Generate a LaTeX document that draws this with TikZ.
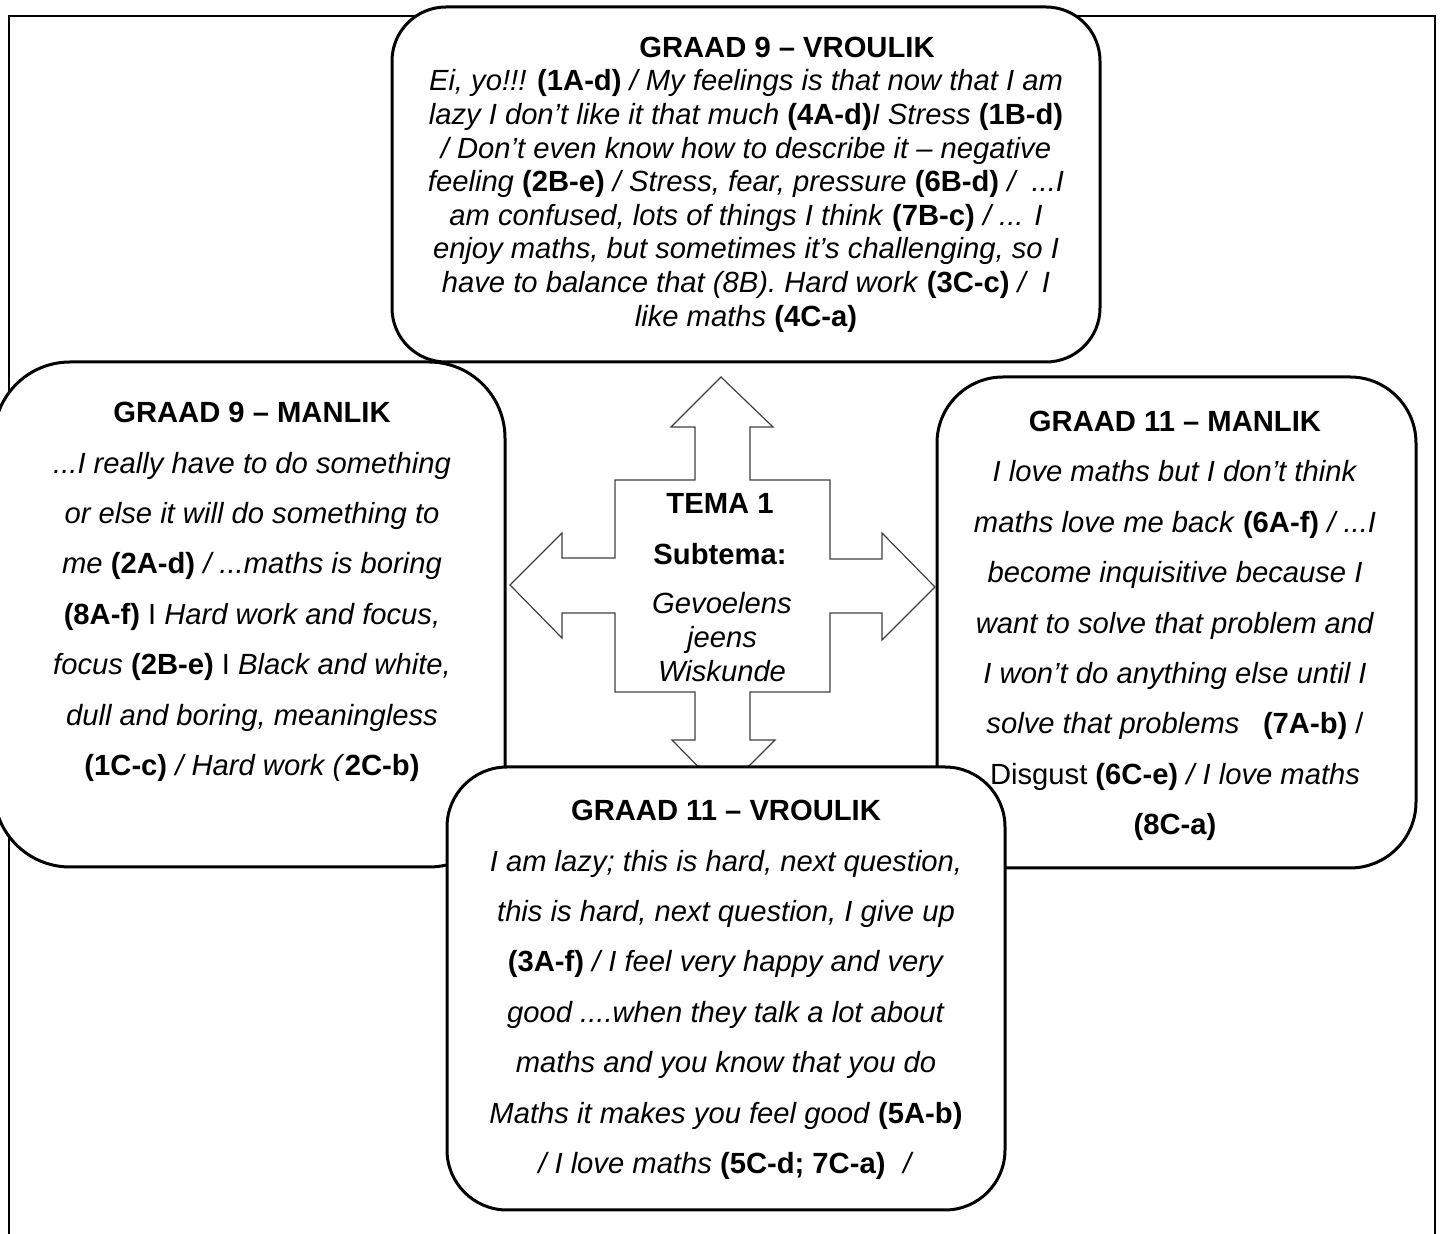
\documentclass[tikz,border=0pt]{standalone}
\usepackage{fontspec}
\setmainfont{Liberation Sans}
\newcommand\myb[1]{\textbf{#1}}
\newcommand\myi[1]{\textit{#1}}
\begin{document}
\begin{tikzpicture}[x=0.5pt,y=-0.5pt,
  box/.style={draw, line width=1.5pt, fill=white, inner sep=0pt, rectangle},
  txt/.style={align=center, font=\fontsize{14.6}{25.2}\selectfont, inner sep=0pt},
  txtsingle/.style={align=center, font=\fontsize{14.6}{16.8}\selectfont, inner sep=0pt},
  arrowshape/.style={draw=black!75, line width=0.6pt, fill=white, line join=miter}]
\useasboundingbox (0,0) rectangle (1442,1234);
% outer frame
\draw[line width=1pt] (9,1240) -- (9,16) -- (1435,16) -- (1435,1240);
% boxes
\node[box, minimum width=255.5pt, minimum height=252.5pt, rounded corners=38pt] (g9m) at (249.5,614.5) {};
\node[box, minimum width=354pt, minimum height=177.5pt, rounded corners=27pt] (g9v) at (746,184.5) {};
\node[box, minimum width=239.5pt, minimum height=245.5pt, rounded corners=33pt] (g11m) at (1176.5,622.5) {};
% central four-way arrow
\draw[arrowshape] (721,377) -- (773,427) -- (750,427) -- (750,480) -- (830,480) -- (830,559)
  -- (882,559) -- (882,533) -- (935,587) -- (882,640) -- (882,613) -- (830,613) -- (830,692)
  -- (750,692) -- (750,740) -- (775,740) -- (723,792) -- (672,740) -- (695,740) -- (695,692)
  -- (615,692) -- (615,613) -- (562,613) -- (562,638) -- (510,585) -- (562,533) -- (562,558)
  -- (615,558) -- (615,480) -- (695,480) -- (695,427) -- (671,427) -- cycle;
\node[box, minimum width=279pt, minimum height=221.5pt, rounded corners=30pt] (g11v) at (726,988.5) {};
% texts
\node[txtsingle] (g9vtitle) at (787,47) {\myb{GRAAD 9 – VROULIK}};
\node[txtsingle] (g9vbody) at (746,201) {%
\myi{Ei, yo!!!} \myb{(1A-d)} \myi{/ My feelings is that now that I am}\\
\myi{lazy I don’t like it that much} \myb{(4A-d)}\myi{I Stress} \myb{(1B-d)}\\
\myi{/ Don’t even know how to describe it – negative}\\
\myi{feeling} \myb{(2B-e)} \myi{/ Stress, fear, pressure} \myb{(6B-d)} \myi{/~ ...I}\\
\myi{am confused, lots of things I think} \myb{(7B-c)} \myi{/ ... I}\\
\myi{enjoy maths, but sometimes it’s challenging, so I}\\
\myi{have to balance that (8B). Hard work} \myb{(3C-c)} \myi{/~ I}\\
\myi{like maths} \myb{(4C-a)}};
\node[txt] (g9mtext) at (252,592) {%
\myb{GRAAD 9 – MANLIK}\\
\myi{...I really have to do something}\\
\myi{or else it will do something to}\\
\myi{me} \myb{(2A-d)} \myi{/ ...maths is boring}\\
\myb{(8A-f)} I \myi{Hard work and focus,}\\
\myi{focus} \myb{(2B-e)} I \myi{Black and white,}\\
\myi{dull and boring, meaningless}\\
\myb{(1C-c)} \myi{/ Hard work (}\myb{2C-b)}};
\node[txt] (g11mtext) at (1175,626) {%
\myb{GRAAD 11 – MANLIK}\\
\myi{I love maths but I don’t think}\\
\myi{maths love me back} \myb{(6A-f)} \myi{/ ...I}\\
\myi{become inquisitive because I}\\
\myi{want to solve that problem and}\\
\myi{I won’t do anything else until I}\\
\myi{solve that problems}\hspace{0.8em}\myb{(7A-b)} /\\
Disgust \myb{(6C-e)} \myi{/ I love maths}\\
\myb{(8C-a)}};
\node[txt] (g11vtext) at (726,990) {%
\myb{GRAAD 11 – VROULIK}\\
\myi{I am lazy; this is hard, next question,}\\
\myi{this is hard, next question, I give up}\\
\myb{(3A-f)} \myi{/ I feel very happy and very}\\
\myi{good ....when they talk a lot about}\\
\myi{maths and you know that you do}\\
\myi{Maths it makes you feel good} \myb{(5A-b)}\\
\myi{/ I love maths} \myb{(5C-d; 7C-a)}\hspace{0.6em}\myi{/}};
\node[txt] (tema) at (720,529) {\myb{TEMA 1}\\\myb{Subtema:}};
\node[txtsingle] (subtema) at (722,637) {\myi{Gevoelens}\\\myi{jeens}\\\myi{Wiskunde}};
\end{tikzpicture}
\end{document}
